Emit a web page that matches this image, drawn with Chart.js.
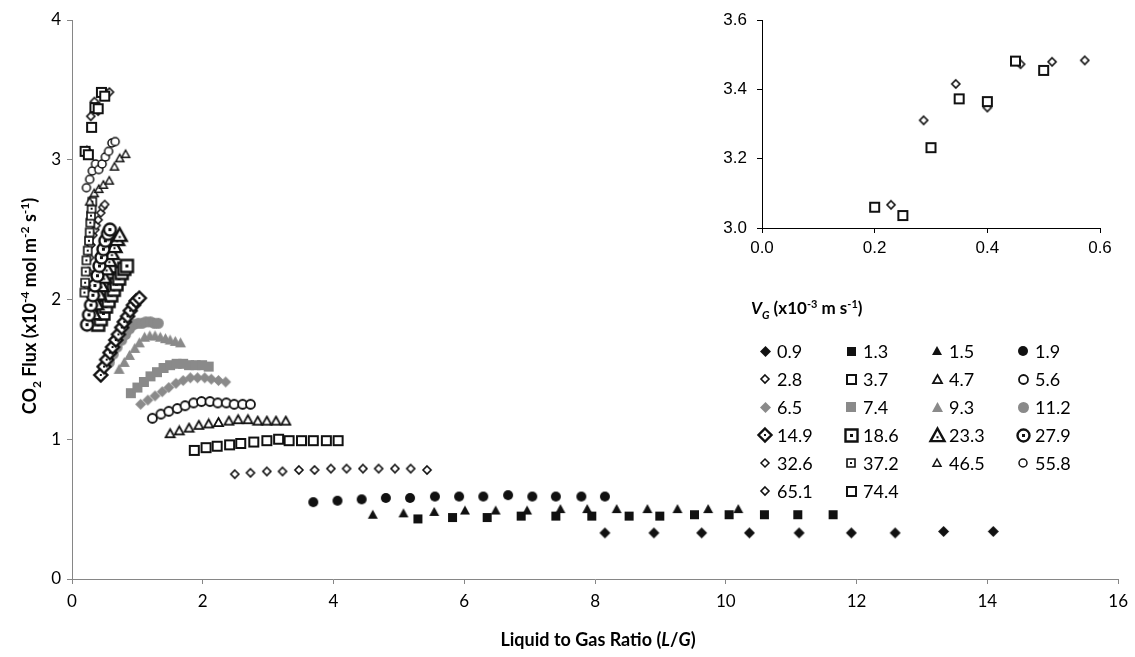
<!DOCTYPE html>
<html>
<head>
<meta charset="utf-8">
<script src="https://cdn.jsdelivr.net/npm/chart.js@4.4.1/dist/chart.umd.min.js"></script>
<style>
  body { margin: 0; background: #fff; }
  #wrap { position: relative; width: 1135px; height: 657px; }
  #main { position: absolute; left: 0; top: 0; }
  #inset { position: absolute; left: 690px; top: 0; }
</style>
</head>
<body>
<div id="wrap">
  <canvas id="main" width="1135" height="657"></canvas>
  <canvas id="inset" width="440" height="260"></canvas>
</div>
<script>
// V_G values (x10^-3 m/s), one series each
const seriesNames = ['0.9', '1.3', '1.5', '1.9', '2.8', '3.7', '4.7', '5.6', '6.5', '7.4', '9.3', '11.2',
  '14.9', '18.6', '23.3', '27.9', '32.6', '37.2', '46.5', '55.8', '65.1', '74.4'];

// L/G (x) and CO2 flux (y) per series
const lg_0_9 = [8.15, 8.90, 9.63, 10.36, 11.12, 11.92, 12.59, 13.33, 14.09];
const fx_0_9 = [0.33, 0.33, 0.33, 0.33, 0.33, 0.33, 0.33, 0.34, 0.34];
const lg_1_3 = [5.29, 5.82, 6.35, 6.87, 7.40, 7.95, 8.52, 8.99, 9.52, 10.05, 10.59, 11.10, 11.64];
const fx_1_3 = [0.43, 0.44, 0.44, 0.45, 0.45, 0.45, 0.45, 0.45, 0.46, 0.46, 0.46, 0.46, 0.46];
const lg_1_5 = [4.60, 5.07, 5.54, 6.01, 6.48, 6.96, 7.47, 7.88, 8.33, 8.80, 9.26, 9.73, 10.19];
const fx_1_5 = [0.46, 0.47, 0.48, 0.49, 0.49, 0.49, 0.50, 0.50, 0.50, 0.50, 0.50, 0.50, 0.50];
const lg_1_9 = [3.69, 4.06, 4.43, 4.80, 5.17, 5.55, 5.92, 6.29, 6.67, 7.04, 7.40, 7.79, 8.15];
const fx_1_9 = [0.55, 0.56, 0.57, 0.58, 0.58, 0.59, 0.59, 0.59, 0.60, 0.59, 0.59, 0.59, 0.59];
const lg_2_8 = [2.49, 2.73, 2.98, 3.22, 3.47, 3.71, 3.96, 4.20, 4.45, 4.69, 4.94, 5.18, 5.43];
const fx_2_8 = [0.75, 0.76, 0.77, 0.77, 0.78, 0.78, 0.79, 0.79, 0.79, 0.79, 0.79, 0.79, 0.78];
const lg_3_7 = [1.87, 2.05, 2.22, 2.41, 2.58, 2.78, 2.98, 3.16, 3.32, 3.51, 3.69, 3.89, 4.07];
const fx_3_7 = [0.92, 0.94, 0.95, 0.96, 0.97, 0.98, 0.99, 1.00, 0.99, 0.99, 0.99, 0.99, 0.99];
const lg_4_7 = [1.50, 1.64, 1.79, 1.94, 2.09, 2.24, 2.40, 2.54, 2.69, 2.84, 2.98, 3.12, 3.27];
const fx_4_7 = [1.04, 1.06, 1.08, 1.10, 1.11, 1.12, 1.13, 1.14, 1.14, 1.13, 1.13, 1.13, 1.13];
const lg_5_6 = [1.23, 1.36, 1.48, 1.61, 1.73, 1.86, 1.98, 2.11, 2.23, 2.36, 2.48, 2.61, 2.73];
const fx_5_6 = [1.15, 1.18, 1.20, 1.22, 1.24, 1.26, 1.27, 1.27, 1.26, 1.26, 1.25, 1.25, 1.25];
const lg_6_5 = [1.05, 1.16, 1.27, 1.38, 1.48, 1.59, 1.70, 1.81, 1.92, 2.03, 2.13, 2.24, 2.35];
const fx_6_5 = [1.25, 1.28, 1.31, 1.34, 1.37, 1.40, 1.42, 1.44, 1.44, 1.44, 1.43, 1.42, 1.41];
const lg_7_4 = [0.90, 1.00, 1.10, 1.20, 1.30, 1.40, 1.50, 1.60, 1.70, 1.79, 1.89, 1.99, 2.09];
const fx_7_4 = [1.33, 1.37, 1.41, 1.45, 1.48, 1.51, 1.53, 1.54, 1.54, 1.53, 1.53, 1.53, 1.52];
const lg_9_3 = [0.72, 0.80, 0.88, 0.96, 1.03, 1.11, 1.19, 1.27, 1.35, 1.43, 1.50, 1.58, 1.66];
const fx_9_3 = [1.50, 1.55, 1.60, 1.65, 1.69, 1.73, 1.74, 1.74, 1.73, 1.72, 1.71, 1.70, 1.69];
const lg_11_2 = [0.57, 0.63, 0.69, 0.76, 0.82, 0.88, 0.94, 1.01, 1.07, 1.13, 1.20, 1.26, 1.32];
const fx_11_2 = [1.55, 1.61, 1.66, 1.71, 1.75, 1.79, 1.82, 1.83, 1.83, 1.84, 1.84, 1.83, 1.83];
const lg_14_9 = [0.44, 0.49, 0.53, 0.58, 0.62, 0.67, 0.71, 0.76, 0.80, 0.85, 0.89, 0.94, 0.98, 1.03];
const fx_14_9 = [1.46, 1.52, 1.57, 1.62, 1.66, 1.71, 1.75, 1.80, 1.84, 1.88, 1.92, 1.96, 1.99, 2.01];
const lg_18_6 = [0.40, 0.44, 0.48, 0.52, 0.56, 0.60, 0.64, 0.68, 0.72, 0.76, 0.80, 0.84];
const fx_18_6 = [1.82, 1.86, 1.90, 1.95, 1.99, 2.03, 2.07, 2.11, 2.15, 2.19, 2.22, 2.24];
const lg_23_3 = [0.33, 0.37, 0.41, 0.45, 0.49, 0.53, 0.57, 0.61, 0.65, 0.69, 0.73];
const fx_23_3 = [1.90, 1.97, 2.04, 2.10, 2.16, 2.22, 2.28, 2.33, 2.38, 2.43, 2.46];
const lg_27_9 = [0.23, 0.26, 0.29, 0.32, 0.35, 0.39, 0.42, 0.45, 0.48, 0.51, 0.55, 0.58];
const fx_27_9 = [1.82, 1.89, 1.96, 2.03, 2.10, 2.17, 2.24, 2.30, 2.36, 2.42, 2.47, 2.50];
const lg_32_6 = [0.22, 0.25, 0.27, 0.29, 0.32, 0.35, 0.37, 0.40, 0.44, 0.47, 0.50];
const fx_32_6 = [2.10, 2.20, 2.30, 2.39, 2.46, 2.50, 2.53, 2.57, 2.62, 2.66, 2.68];
const lg_37_2 = [0.19, 0.20, 0.21, 0.22, 0.24, 0.26, 0.27, 0.28, 0.29, 0.30, 0.31];
const fx_37_2 = [2.05, 2.12, 2.20, 2.28, 2.35, 2.42, 2.48, 2.55, 2.60, 2.65, 2.70];
const lg_46_5 = [0.27, 0.34, 0.41, 0.48, 0.57, 0.65, 0.73, 0.82];
const fx_46_5 = [2.70, 2.76, 2.79, 2.82, 2.85, 2.95, 3.01, 3.04];
const lg_55_8 = [0.22, 0.27, 0.31, 0.36, 0.41, 0.46, 0.51, 0.56, 0.61, 0.66];
const fx_55_8 = [2.80, 2.86, 2.92, 2.97, 2.93, 2.97, 3.02, 3.06, 3.12, 3.13];
const lg_65_1 = [0.229, 0.287, 0.344, 0.400, 0.459, 0.515, 0.573];
const fx_65_1 = [3.067, 3.311, 3.416, 3.348, 3.473, 3.480, 3.484];
const lg_74_4 = [0.20, 0.25, 0.30, 0.35, 0.40, 0.45, 0.50];
const fx_74_4 = [3.060, 3.036, 3.232, 3.373, 3.365, 3.482, 3.455];

const xTicks = [0, 2, 4, 6, 8, 10, 12, 14, 16];
const yTicks = [0, 1, 2, 3, 4];
const insetXTicks = [0.0, 0.2, 0.4, 0.6];
const insetYTicks = [3.0, 3.2, 3.4, 3.6];

const seriesX = [lg_0_9, lg_1_3, lg_1_5, lg_1_9, lg_2_8, lg_3_7, lg_4_7, lg_5_6, lg_6_5, lg_7_4, lg_9_3, lg_11_2,
  lg_14_9, lg_18_6, lg_23_3, lg_27_9, lg_32_6, lg_37_2, lg_46_5, lg_55_8, lg_65_1, lg_74_4];
const seriesY = [fx_0_9, fx_1_3, fx_1_5, fx_1_9, fx_2_8, fx_3_7, fx_4_7, fx_5_6, fx_6_5, fx_7_4, fx_9_3, fx_11_2,
  fx_14_9, fx_18_6, fx_23_3, fx_27_9, fx_32_6, fx_37_2, fx_46_5, fx_55_8, fx_65_1, fx_74_4];

// marker looks (Excel-like)
const INK = '#111';
const GREY = '#8a8a8a';
const markerSpec = {
  '0.9':  { shape: 'diamond',  size: 11, fill: INK },
  '1.3':  { shape: 'square',   size: 9,  fill: INK },
  '1.5':  { shape: 'triangle', size: 10, fill: INK },
  '1.9':  { shape: 'circle',   size: 10, fill: INK },
  '2.8':  { shape: 'diamond',  size: 8,  fill: '#fff', stroke: INK, lw: 1.6 },
  '3.7':  { shape: 'square',   size: 9,  fill: '#fff', stroke: INK, lw: 2 },
  '4.7':  { shape: 'triangle', size: 9,  fill: '#fff', stroke: INK, lw: 1.8 },
  '5.6':  { shape: 'circle',   size: 9,  fill: '#fff', stroke: INK, lw: 1.8 },
  '6.5':  { shape: 'diamond',  size: 11, fill: GREY },
  '7.4':  { shape: 'square',   size: 10, fill: GREY },
  '9.3':  { shape: 'triangle', size: 11, fill: GREY },
  '11.2': { shape: 'circle',   size: 11, fill: GREY },
  '14.9': { shape: 'diamond',  size: 13, fill: '#fff', stroke: INK, lw: 2.4, dot: 2 },
  '18.6': { shape: 'square',   size: 12, fill: '#fff', stroke: INK, lw: 2.4, dot: 3 },
  '23.3': { shape: 'triangle', size: 14, fill: '#fff', stroke: INK, lw: 2.4, dot: 2 },
  '27.9': { shape: 'circle',   size: 12, fill: '#fff', stroke: INK, lw: 2.4, dot: 3 },
  '32.6': { shape: 'diamond',  size: 8,  fill: '#fff', stroke: INK, lw: 1.5 },
  '37.2': { shape: 'square',   size: 8,  fill: '#fff', stroke: INK, lw: 1.6, dot: 2 },
  '46.5': { shape: 'triangle', size: 8,  fill: '#fff', stroke: INK, lw: 1.5 },
  '55.8': { shape: 'circle',   size: 8,  fill: '#fff', stroke: INK, lw: 1.5 },
  '65.1': { shape: 'diamond',  size: 8,  fill: '#fff', stroke: INK, lw: 1.6 },
  '74.4': { shape: 'square',   size: 9,  fill: '#fff', stroke: INK, lw: 2 }
};

function makeMarker(m) {
  const lw = m.lw || 0;
  const side = Math.ceil(m.size + lw + 2);
  const c = document.createElement('canvas');
  c.width = c.height = side;
  const g = c.getContext('2d');
  const h = side / 2, r = m.size / 2;
  g.beginPath();
  if (m.shape === 'diamond') {
    g.moveTo(h, h - r); g.lineTo(h + r, h); g.lineTo(h, h + r); g.lineTo(h - r, h); g.closePath();
  } else if (m.shape === 'square') {
    g.rect(h - r, h - r, 2 * r, 2 * r);
  } else if (m.shape === 'triangle') {
    g.moveTo(h, h - r); g.lineTo(h + r, h + r * 0.8); g.lineTo(h - r, h + r * 0.8); g.closePath();
  } else {
    g.arc(h, h, r, 0, Math.PI * 2);
  }
  g.fillStyle = m.fill;
  g.fill();
  if (lw) {
    g.lineWidth = lw;
    g.strokeStyle = m.stroke;
    g.stroke();
  }
  if (m.dot) {
    g.fillStyle = INK;
    const dy = m.shape === 'triangle' ? r * 0.25 : 0;
    g.fillRect(h - m.dot / 2, h - m.dot / 2 + dy, m.dot, m.dot);
  }
  return c;
}

const markers = {};
seriesNames.forEach(n => { markers[n] = makeMarker(markerSpec[n]); });

function toPoints(xs, ys) {
  return xs.map((x, i) => ({ x: x, y: ys[i] }));
}

// rich text: parts = [text, 'sup'|'sub'|'', italic]
function drawRich(ctx, parts, x, y, size, align) {
  const fontFor = p => (p[2] ? 'italic ' : '') + 'bold ' + (p[1] ? Math.round(size * 0.66) : size) + 'px Lato';
  let total = 0;
  parts.forEach(p => { ctx.font = fontFor(p); total += ctx.measureText(p[0]).width; });
  let cx = align === 'center' ? x - total / 2 : x;
  ctx.textAlign = 'left';
  ctx.textBaseline = 'alphabetic';
  parts.forEach(p => {
    ctx.font = fontFor(p);
    const dy = p[1] === 'sub' ? size * 0.28 : p[1] === 'sup' ? -size * 0.38 : 0;
    ctx.fillText(p[0], cx, y + dy);
    cx += ctx.measureText(p[0]).width;
  });
}

const legendCols = [765, 851, 937, 1023];
const legendRow0 = 351;
const legendRowGap = 28;

const extras = {
  id: 'extras',
  afterDraw(chart) {
    const ctx = chart.ctx;
    ctx.save();
    ctx.fillStyle = '#000';
    // x axis title
    drawRich(ctx, [['Liquid to Gas Ratio (', '', false], ['L', '', true], ['/', '', false], ['G', '', true], [')', '', false]],
      598, 646, 18, 'center');
    // y axis title
    ctx.save();
    ctx.translate(36, 306);
    ctx.rotate(-Math.PI / 2);
    drawRich(ctx, [['CO', '', false], ['2', 'sub', false], [' Flux (x10', '', false], ['-4', 'sup', false],
      [' mol m', '', false], ['-2', 'sup', false], [' s', '', false], ['-1', 'sup', false], [')', '', false]],
      0, 0, 18, 'center');
    ctx.restore();
    // legend title
    drawRich(ctx, [['V', '', true], ['G', 'sub', true], [' (x10', '', false], ['-3', 'sup', false],
      [' m s', '', false], ['-1', 'sup', false], [')', '', false]], 751, 314, 17, 'left');
    // legend entries
    seriesNames.forEach((n, i) => {
      const col = i % 4, row = Math.floor(i / 4);
      const mx = legendCols[col], my = legendRow0 + row * legendRowGap;
      const img = markers[n];
      ctx.drawImage(img, Math.round(mx - img.width / 2), Math.round(my - img.height / 2));
      ctx.font = '18px Lato';
      ctx.textAlign = 'left';
      ctx.textBaseline = 'middle';
      ctx.fillStyle = '#000';
      ctx.fillText(n, mx + 12, my + 1);
    });
    ctx.restore();
  }
};

const axisGrey = '#868686';

const datasets = seriesNames.map((n, i) => ({
  label: n,
  data: toPoints(seriesX[i], seriesY[i]),
  pointStyle: markers[n],
  pointRadius: 5,
  pointHoverRadius: 5,
  showLine: false,
  order: seriesNames.length - i
}));

new Chart(document.getElementById('main'), {
  type: 'scatter',
  data: { datasets: datasets },
  options: {
    responsive: false,
    animation: false,
    devicePixelRatio: 1,
    layout: { padding: { left: 0, top: 20, right: 12, bottom: 0 } },
    plugins: { legend: { display: false }, tooltip: { enabled: false } },
    scales: {
      x: {
        type: 'linear', min: 0, max: 16,
        afterBuildTicks: s => { s.ticks = xTicks.map(v => ({ value: v })); },
        afterFit: s => { s.height = 78; },
        ticks: { font: { family: 'Lato', size: 17 }, color: '#000', padding: 7, maxRotation: 0 },
        grid: { drawOnChartArea: false, drawTicks: true, tickLength: 5, color: axisGrey },
        border: { color: axisGrey, width: 1 }
      },
      y: {
        type: 'linear', min: 0, max: 4,
        afterBuildTicks: s => { s.ticks = yTicks.map(v => ({ value: v })); },
        afterFit: s => { s.width = 72; },
        ticks: { font: { family: 'Lato', size: 17 }, color: '#000', padding: 6 },
        grid: { drawOnChartArea: false, drawTicks: true, tickLength: 5, color: axisGrey },
        border: { color: axisGrey, width: 1 }
      }
    }
  },
  plugins: [extras]
});

// inset: the two highest V_G series, zoomed
new Chart(document.getElementById('inset'), {
  type: 'scatter',
  data: {
    datasets: [
      { label: '74.4', data: toPoints(lg_74_4, fx_74_4), pointStyle: markers['74.4'], pointRadius: 5, showLine: false },
      { label: '65.1', data: toPoints(lg_65_1, fx_65_1), pointStyle: markers['65.1'], pointRadius: 5, showLine: false }
    ]
  },
  options: {
    responsive: false,
    animation: false,
    devicePixelRatio: 1,
    layout: { padding: { left: 0, top: 20, right: 30, bottom: 0 } },
    plugins: { legend: { display: false }, tooltip: { enabled: false } },
    scales: {
      x: {
        type: 'linear', min: 0, max: 0.6,
        afterBuildTicks: s => { s.ticks = insetXTicks.map(v => ({ value: v })); },
        afterFit: s => { s.height = 32; },
        ticks: { font: { family: 'Liberation Sans', size: 17 }, color: '#000', padding: 5, maxRotation: 0,
          callback: v => v.toFixed(1) },
        grid: { drawOnChartArea: false, drawTicks: true, tickLength: 5, color: '#000' },
        border: { color: '#000', width: 1 }
      },
      y: {
        type: 'linear', min: 3.0, max: 3.6,
        afterBuildTicks: s => { s.ticks = insetYTicks.map(v => ({ value: v })); },
        afterFit: s => { s.width = 72; },
        ticks: { font: { family: 'Liberation Sans', size: 17 }, color: '#000', padding: 10,
          callback: v => v.toFixed(1) },
        grid: { drawOnChartArea: false, drawTicks: true, tickLength: 5, color: '#000' },
        border: { color: '#000', width: 1 }
      }
    }
  }
});
</script>
</body>
</html>
